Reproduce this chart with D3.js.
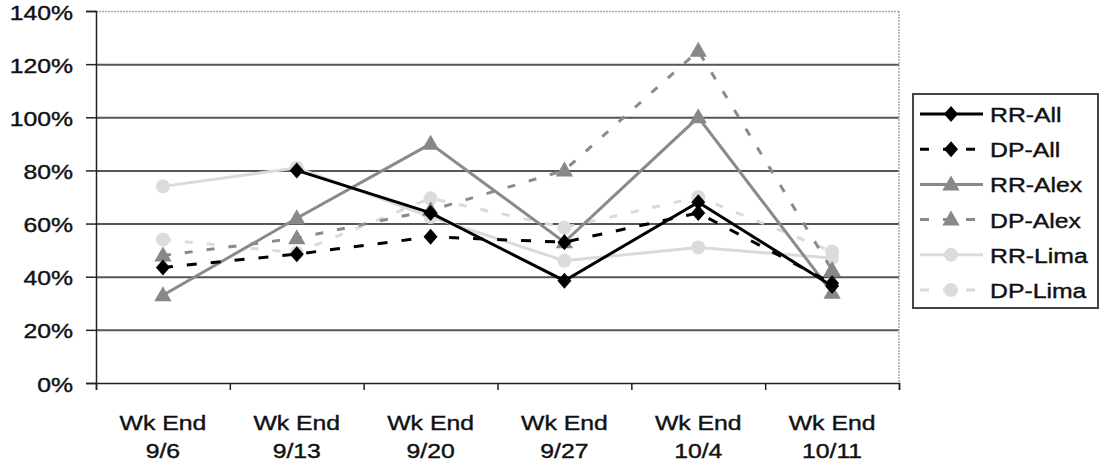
<!DOCTYPE html>
<html lang="en">
<head>
<meta charset="utf-8" />
<title>Weekly rates</title>
<script src="https://cdn.jsdelivr.net/npm/d3@7"></script>
<style>
    body { margin: 0; background: #fff; }
    svg text { font-family: "Liberation Sans", Arial, sans-serif; fill: #111; stroke: #111; stroke-width: 0.4px; }
</style>
</head>
<body>
<svg id="chart" width="1111" height="467"></svg>
<script>
// categories and tick labels
const weeks = ["9/6", "9/13", "9/20", "9/27", "10/4", "10/11"];
const weekPrefix = "Wk End";
const yTicks = [0, 0.2, 0.4, 0.6, 0.8, 1.0, 1.2, 1.4];

// series values (percent), null = no point
const rrAll  = [null, 80, 64, 38.5, 68, 36.5];
const dpAll  = [43.5, 48.5, 55, 53, 64, 37.5];
const rrAlex = [33, 62, 90, 53, 100, 34];
const dpAlex = [48, 54.5, 65, 80, 125, 42.5];
const rrLima = [74, 81, 62.5, 46, 51, 47];
const dpLima = [54, 49, 69.5, 58.5, 70, 49.5];

const series = [
    { name: "RR-All",  values: rrAll,  color: "#000",    width: 3,   dash: null,    marker: "diamond", mcolor: "#000" },
    { name: "DP-All",  values: dpAll,  color: "#000",    width: 3,   dash: "10,14", marker: "diamond", mcolor: "#000" },
    { name: "RR-Alex", values: rrAlex, color: "#8a8a8a", width: 3,   dash: null,    marker: "triangle", mcolor: "#888" },
    { name: "DP-Alex", values: dpAlex, color: "#8a8a8a", width: 3,   dash: "8,14",  marker: "triangle", mcolor: "#888" },
    { name: "RR-Lima", values: rrLima, color: "#dadada", width: 3,   dash: null,    marker: "circle", mcolor: "#dcdcdc" },
    { name: "DP-Lima", values: dpLima, color: "#dadada", width: 3,   dash: "8,14",  marker: "circle", mcolor: "#dcdcdc" }
];

const svg = d3.select("#chart");
const plotLeft = 96, plotRight = 899, plotTop = 11, plotBottom = 383;
const stretch = "scale(1.18,1)";

const x = d3.scaleBand().domain(weeks).range([plotLeft, plotRight]).paddingInner(0).paddingOuter(0);
const y = d3.scaleLinear().domain([0, 1.4]).range([plotBottom, plotTop]);
const xEdge = d3.scaleLinear().domain([0, weeks.length]).range([plotLeft, plotRight]);
const cx = w => x(w) + x.bandwidth() / 2;

// gridlines
const grid = svg.append("g").attr("transform", `translate(${plotLeft},0)`)
    .call(d3.axisLeft(y).tickValues(yTicks.slice(1)).tickSize(-(plotRight - plotLeft)).tickFormat(""));
grid.select(".domain").remove();
grid.selectAll(".tick line")
    .attr("stroke", d => d === 1.4 ? "#aaa" : "#555")
    .attr("stroke-width", d => d === 1.4 ? 1.5 : 2)
    .attr("stroke-dasharray", d => d === 1.4 ? "2,1" : null);

// right border of plot area
svg.append("line")
    .attr("x1", plotRight).attr("x2", plotRight).attr("y1", plotTop).attr("y2", plotBottom)
    .attr("stroke", "#aaa").attr("stroke-width", 1.5).attr("stroke-dasharray", "2,1");

// y axis
const yAxis = svg.append("g").attr("transform", `translate(${plotLeft},0)`)
    .call(d3.axisLeft(y).tickValues(yTicks).tickSize(10).tickFormat(d3.format(".0%")));
yAxis.select(".domain").attr("stroke", "#222").attr("stroke-width", 1.5);
yAxis.selectAll(".tick line").attr("stroke", "#222").attr("stroke-width", 1.5);
yAxis.selectAll(".tick text")
    .attr("x", null).attr("dy", null)
    .attr("transform", `translate(-23,8) ${stretch}`)
    .attr("text-anchor", "end")
    .style("font-size", "21px").style("fill", "#111");

// x axis: line + boundary ticks
const xAxis = svg.append("g").attr("transform", `translate(0,${plotBottom})`)
    .call(d3.axisBottom(xEdge).ticks(weeks.length).tickSize(7).tickFormat(""));
xAxis.select(".domain").attr("stroke", "#222").attr("stroke-width", 1.5);
xAxis.selectAll(".tick line").attr("stroke", "#222").attr("stroke-width", 1.5);

// x axis labels (two lines)
const xLab = svg.append("g").attr("transform", `translate(0,${plotBottom})`)
    .call(d3.axisBottom(x).tickSize(0).tickFormat(""));
xLab.select(".domain").remove();
xLab.selectAll(".tick text").each(function(d) {
    const t = d3.select(this)
        .attr("y", null).attr("dy", null)
        .attr("text-anchor", "middle")
        .attr("transform", `translate(0,47) ${stretch}`)
        .style("font-size", "21px").style("fill", "#111");
    t.append("tspan").attr("x", 0).attr("y", 0).text(weekPrefix);
    t.append("tspan").attr("x", 0).attr("y", 28).text(d);
});

// markers
function drawMarker(g, type, color, px, py) {
    if (type === "diamond") {
        g.append("path")
            .attr("d", `M${px},${py - 8}L${px + 7},${py}L${px},${py + 8}L${px - 7},${py}Z`)
            .attr("fill", color);
    } else if (type === "triangle") {
        g.append("path")
            .attr("d", d3.symbol(d3.symbolTriangle, 130)())
            .attr("transform", `translate(${px},${py + 1})`)
            .attr("fill", color);
    } else {
        g.append("circle").attr("cx", px).attr("cy", py).attr("r", 7).attr("fill", color);
    }
}

const line = d3.line()
    .defined(d => d.v !== null)
    .x(d => cx(d.w))
    .y(d => y(d.v / 100));

// draw light series first so dark ones stay on top
const order = [5, 4, 3, 2, 1, 0];
const plot = svg.append("g");
order.forEach(i => {
    const s = series[i];
    const pts = weeks.map((w, j) => ({ w, v: s.values[j] }));
    plot.append("path")
        .datum(pts)
        .attr("d", line)
        .attr("fill", "none")
        .attr("stroke", s.color)
        .attr("stroke-width", s.width)
        .attr("stroke-dasharray", s.dash);
    const mg = plot.append("g");
    pts.filter(p => p.v !== null).forEach(p => drawMarker(mg, s.marker, s.mcolor, cx(p.w), y(p.v / 100)));
});

// legend
const legend = svg.append("g");
legend.append("rect")
    .attr("x", 913).attr("y", 94).attr("width", 185).attr("height", 214)
    .attr("fill", "#fff").attr("stroke", "#444").attr("stroke-width", 2);
const ly = d3.scalePoint().domain(series.map(s => s.name)).range([114, 290]);
series.forEach(s => {
    const yy = ly(s.name);
    legend.append("line")
        .attr("x1", 920).attr("x2", 983).attr("y1", yy).attr("y2", yy)
        .attr("stroke", s.color).attr("stroke-width", s.width)
        .attr("stroke-dasharray", s.dash ? "9,14" : null);
    drawMarker(legend, s.marker, s.mcolor, 951, yy);
    legend.append("text")
        .attr("transform", `translate(990,${yy + 8}) ${stretch}`)
        .style("font-size", "21px")
        .text(s.name);
});
</script>
</body>
</html>
